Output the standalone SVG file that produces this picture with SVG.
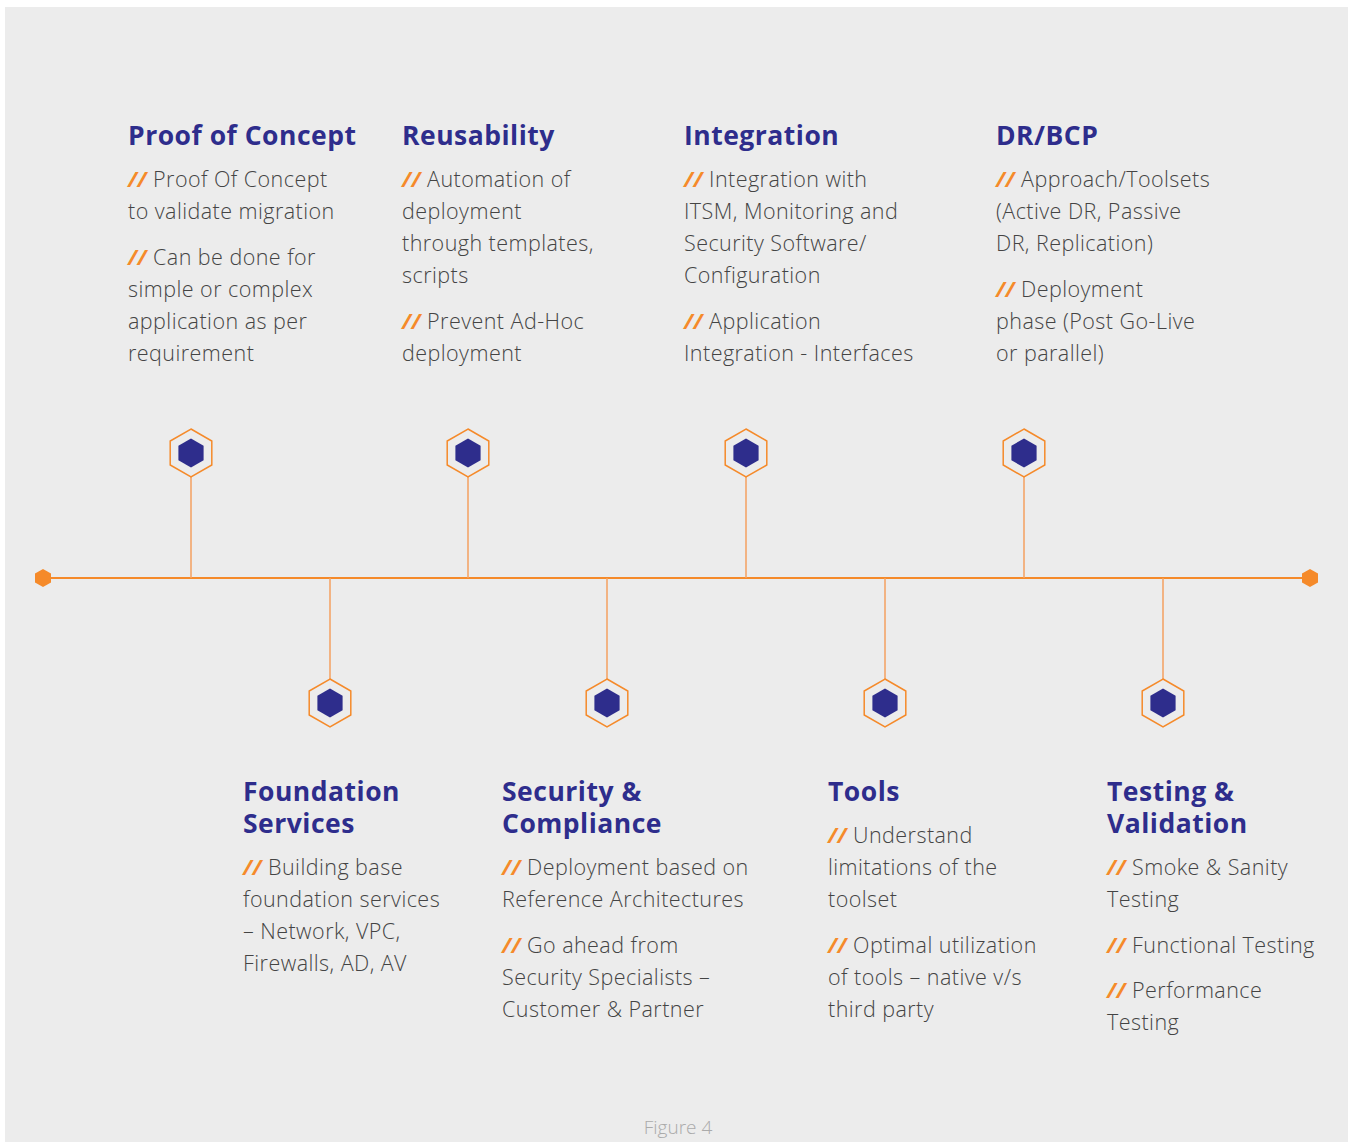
<svg xmlns="http://www.w3.org/2000/svg" width="1350" height="1142" viewBox="0 0 1350 1142">
<defs>
<style>
.t{font-family:"Open Sans","Liberation Sans",sans-serif;font-weight:700;font-size:26.5px;letter-spacing:0.5px;fill:#2e2d8c}
.b{font-family:"Open Sans","Liberation Sans",sans-serif;font-weight:300;font-size:21.5px;letter-spacing:0.45px;fill:#444}
.s{fill:#f58a2a;font-weight:700;font-style:italic}
.stem{stroke:#f5a060;stroke-width:1.5;fill:none}
.oh{fill:none;stroke:#f58a2a;stroke-width:1.5}
.ih{fill:#2e2d8c}
.eh{fill:#f58a2a}
</style>
<g id="hx"><polygon class="oh" points="0,-24 20.8,-12 20.8,12 0,24 -20.8,12 -20.8,-12"/><polygon class="ih" points="0,-14.5 12.6,-7.25 12.6,7.25 0,14.5 -12.6,7.25 -12.6,-7.25"/></g>
</defs>
<rect x="0" y="0" width="1350" height="1142" fill="#ffffff"/>
<rect x="5" y="7" width="1343" height="1135" fill="#ececec"/>
<g id="connectors">
<line x1="43" y1="578" x2="1310" y2="578" stroke="#f58a2a" stroke-width="2"/>
<line class="stem" x1="191" y1="477" x2="191" y2="578"/>
<line class="stem" x1="468" y1="477" x2="468" y2="578"/>
<line class="stem" x1="746" y1="477" x2="746" y2="578"/>
<line class="stem" x1="1024" y1="477" x2="1024" y2="578"/>
<line class="stem" x1="330" y1="578" x2="330" y2="679"/>
<line class="stem" x1="607" y1="578" x2="607" y2="679"/>
<line class="stem" x1="885" y1="578" x2="885" y2="679"/>
<line class="stem" x1="1163" y1="578" x2="1163" y2="679"/>
</g>
<g id="end-left"><polygon class="eh" points="43,569 51,573.5 51,582.5 43,587 35,582.5 35,573.5"/></g>
<g id="end-right"><polygon class="eh" points="1310,569 1318,573.5 1318,582.5 1310,587 1302,582.5 1302,573.5"/></g>

<g id="poc">
<use href="#hx" x="191" y="453"/>
<text class="t" x="128" y="145">Proof of Concept</text>
<text class="b" x="128" y="187"><tspan class="s">//</tspan> Proof Of Concept</text>
<text class="b" x="128" y="219">to validate migration</text>
<text class="b" x="128" y="265"><tspan class="s">//</tspan> Can be done for</text>
<text class="b" x="128" y="297">simple or complex</text>
<text class="b" x="128" y="329">application as per</text>
<text class="b" x="128" y="361">requirement</text>
</g>
<g id="reusability">
<use href="#hx" x="468" y="453"/>
<text class="t" x="402" y="145">Reusability</text>
<text class="b" x="402" y="187"><tspan class="s">//</tspan> Automation of</text>
<text class="b" x="402" y="219">deployment</text>
<text class="b" x="402" y="251">through templates,</text>
<text class="b" x="402" y="283">scripts</text>
<text class="b" x="402" y="329"><tspan class="s">//</tspan> Prevent Ad-Hoc</text>
<text class="b" x="402" y="361">deployment</text>
</g>
<g id="integration">
<use href="#hx" x="746" y="453"/>
<text class="t" x="684" y="145">Integration</text>
<text class="b" x="684" y="187"><tspan class="s">//</tspan> Integration with</text>
<text class="b" x="684" y="219">ITSM, Monitoring and</text>
<text class="b" x="684" y="251">Security Software/</text>
<text class="b" x="684" y="283">Configuration</text>
<text class="b" x="684" y="329"><tspan class="s">//</tspan> Application</text>
<text class="b" x="684" y="361">Integration - Interfaces</text>
</g>
<g id="drbcp">
<use href="#hx" x="1024" y="453"/>
<text class="t" x="996" y="145">DR/BCP</text>
<text class="b" x="996" y="187"><tspan class="s">//</tspan> Approach/Toolsets</text>
<text class="b" x="996" y="219">(Active DR, Passive</text>
<text class="b" x="996" y="251">DR, Replication)</text>
<text class="b" x="996" y="297"><tspan class="s">//</tspan> Deployment</text>
<text class="b" x="996" y="329">phase (Post Go-Live</text>
<text class="b" x="996" y="361">or parallel)</text>
</g>

<g id="foundation">
<use href="#hx" x="330" y="703"/>
<text class="t" x="243" y="801">Foundation<tspan x="243" dy="32">Services</tspan></text>
<text class="b" x="243" y="875"><tspan class="s">//</tspan> Building base</text>
<text class="b" x="243" y="907">foundation services</text>
<text class="b" x="243" y="939">– Network, VPC,</text>
<text class="b" x="243" y="971">Firewalls, AD, AV</text>
</g>
<g id="security">
<use href="#hx" x="607" y="703"/>
<text class="t" x="502" y="801">Security &amp;<tspan x="502" dy="32">Compliance</tspan></text>
<text class="b" x="502" y="875"><tspan class="s">//</tspan> Deployment based on</text>
<text class="b" x="502" y="907">Reference Architectures</text>
<text class="b" x="502" y="953"><tspan class="s">//</tspan> Go ahead from</text>
<text class="b" x="502" y="985">Security Specialists –</text>
<text class="b" x="502" y="1017">Customer &amp; Partner</text>
</g>
<g id="tools">
<use href="#hx" x="885" y="703"/>
<text class="t" x="828" y="801">Tools</text>
<text class="b" x="828" y="843"><tspan class="s">//</tspan> Understand</text>
<text class="b" x="828" y="875">limitations of the</text>
<text class="b" x="828" y="907">toolset</text>
<text class="b" x="828" y="953"><tspan class="s">//</tspan> Optimal utilization</text>
<text class="b" x="828" y="985">of tools – native v/s</text>
<text class="b" x="828" y="1017">third party</text>
</g>
<g id="testing">
<use href="#hx" x="1163" y="703"/>
<text class="t" x="1107" y="801">Testing &amp;<tspan x="1107" dy="32">Validation</tspan></text>
<text class="b" x="1107" y="875"><tspan class="s">//</tspan> Smoke &amp; Sanity</text>
<text class="b" x="1107" y="907">Testing</text>
<text class="b" x="1107" y="953"><tspan class="s">//</tspan> Functional Testing</text>
<text class="b" x="1107" y="998"><tspan class="s">//</tspan> Performance</text>
<text class="b" x="1107" y="1030">Testing</text>
</g>
<text x="678" y="1134" text-anchor="middle" font-family="'Open Sans','Liberation Sans',sans-serif" font-weight="300" font-size="19" fill="#aaaaaa">Figure 4</text>
</svg>
